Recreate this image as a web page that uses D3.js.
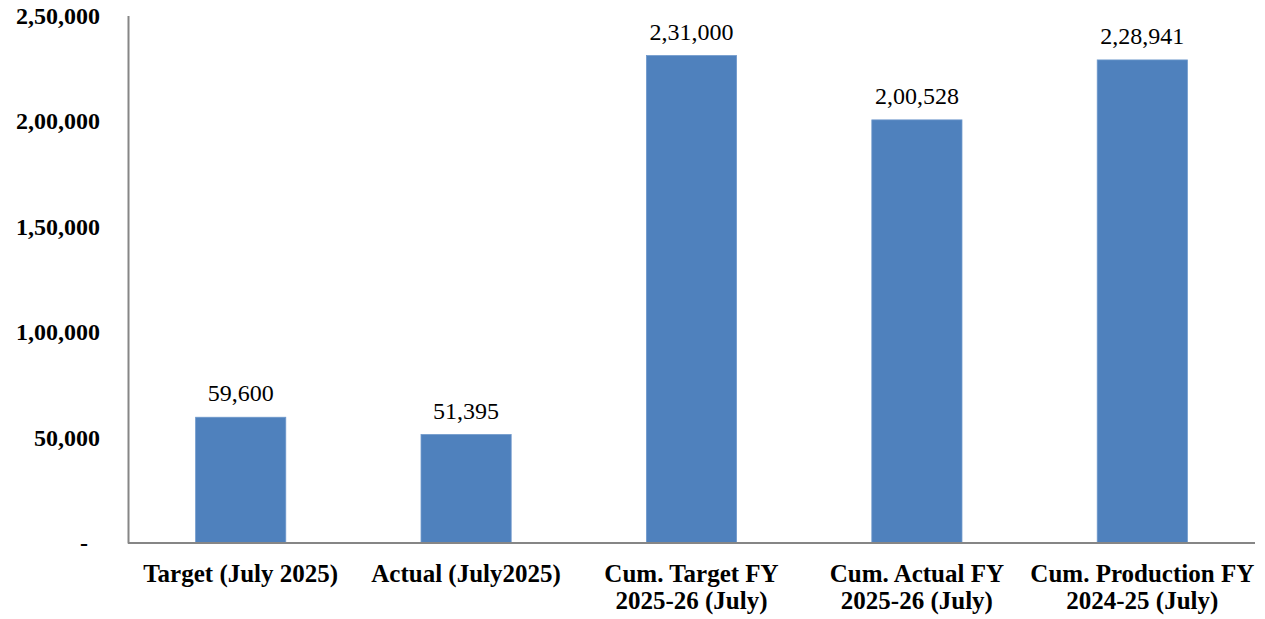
<!DOCTYPE html>
<html>
<head>
<meta charset="utf-8">
<script src="https://cdn.jsdelivr.net/npm/d3@7"></script>
<style>
  html, body { margin: 0; padding: 0; background: #fff; }
  svg { display: block; }
</style>
</head>
<body>
<svg id="chart" width="1265" height="619"></svg>
<script>
// Production figures (tonnes)
const categories = [
  ["Target (July 2025)"],
  ["Actual (July2025)"],
  ["Cum. Target FY", "2025-26 (July)"],
  ["Cum. Actual FY", "2025-26 (July)"],
  ["Cum. Production FY", "2024-25 (July)"]
];
const values = [59600, 51395, 231000, 200528, 228941];
const yTicks = [0, 50000, 100000, 150000, 200000, 250000];

// Indian digit grouping: 2,31,000
function indianFormat(n) {
  const s = String(Math.round(n));
  if (s.length <= 3) return s;
  const last3 = s.slice(-3);
  let rest = s.slice(0, -3);
  const parts = [];
  while (rest.length > 2) { parts.unshift(rest.slice(-2)); rest = rest.slice(0, -2); }
  if (rest.length) parts.unshift(rest);
  return parts.join(",") + "," + last3;
}

const svg = d3.select("#chart");
const margin = { left: 128, right: 10, top: 15.5, bottom: 76 };
const W = 1265, H = 619;

const x = d3.scaleBand()
  .domain(d3.range(values.length))
  .range([margin.left, W - margin.right])
  .paddingInner(0.6)
  .paddingOuter(0.3);

const y = d3.scaleLinear()
  .domain([0, 250000])
  .range([H - margin.bottom, margin.top]);

const font = "'Liberation Serif', 'Times New Roman', serif";

// Bars
svg.append("g").selectAll("rect")
  .data(values)
  .join("rect")
  .attr("x", (d, i) => x(i))
  .attr("y", d => y(d))
  .attr("width", x.bandwidth())
  .attr("height", d => y(0) - y(d))
  .attr("fill", "#4F81BD")
  .attr("stroke", "#6E98CB")
  .attr("stroke-width", 0.8);

// Value labels
svg.append("g").selectAll("text")
  .data(values)
  .join("text")
  .attr("x", (d, i) => x(i) + x.bandwidth() / 2)
  .attr("y", d => y(d) - 16)
  .attr("text-anchor", "middle")
  .attr("font-family", font)
  .attr("font-size", 24)
  .attr("fill", "#000")
  .text(d => indianFormat(d));

// Y axis
const yAxis = d3.axisLeft(y)
  .tickValues(yTicks)
  .tickSize(0)
  .tickPadding(28)
  .tickFormat(d => d === 0 ? "-" : indianFormat(d));
const gy = svg.append("g")
  .attr("transform", `translate(${margin.left},0)`)
  .call(yAxis);
gy.select(".domain").attr("stroke", "#868686").attr("stroke-width", 2);
gy.selectAll(".tick text")
  .attr("font-family", font)
  .attr("font-size", 24)
  .attr("font-weight", "bold")
  .attr("fill", "#000")
  .attr("dx", d => d === 0 ? -12 : 0);

// X axis
const xAxis = d3.axisBottom(x).tickSize(0).tickFormat("");
const gx = svg.append("g")
  .attr("transform", `translate(0,${y(0)})`)
  .call(xAxis);
gx.select(".domain")
  .attr("d", `M${margin.left},0H${W - margin.right}`)
  .attr("stroke", "#868686").attr("stroke-width", 2);

// Category labels (wrapped)
const cat = svg.append("g").selectAll("text")
  .data(categories)
  .join("text")
  .attr("x", (d, i) => x(i) + x.bandwidth() / 2)
  .attr("y", y(0) + 39)
  .attr("text-anchor", "middle")
  .attr("font-family", font)
  .attr("font-size", 25)
  .attr("font-weight", "bold")
  .attr("fill", "#000");
cat.each(function(lines) {
  const t = d3.select(this);
  lines.forEach((line, k) => {
    t.append("tspan")
      .attr("x", t.attr("x"))
      .attr("dy", k === 0 ? 0 : 27)
      .text(line);
  });
});
</script>
</body>
</html>
